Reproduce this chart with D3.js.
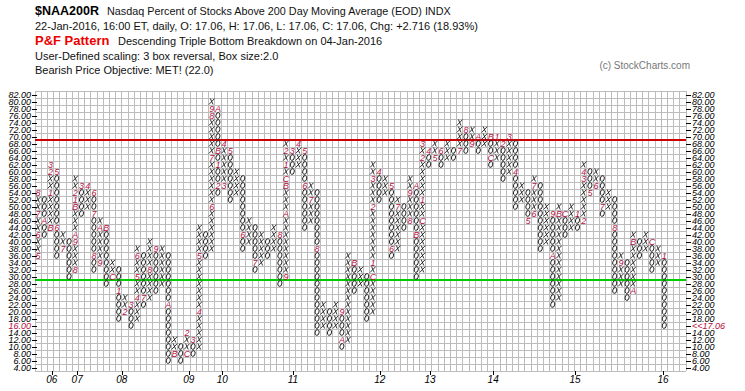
<!DOCTYPE html>
<html><head><meta charset="utf-8">
<script src="https://cdn.jsdelivr.net/npm/d3@7"></script>
<style>body{margin:0;background:#fff}svg{display:block}text{font-family:"Liberation Sans",Arial,sans-serif}</style>
</head><body><svg id="c" width="745" height="391"></svg>
<script>
// ---- data ----
const colLow  = [36,42,44,36,38,30,32,48,50,32, 34,28,30,18,20,16,18,22,24,26, 28,6,8,6,8,8,10,36,38,54,
                 56,52,54,38,40,32,34,36,38,28, 30,60,62,44,46,14,16,14,16,10, 12,26,28,18,20,52,54,36,38,44,
                 46,30,32,62,64,62,64,64,66,66, 68,66,68,62,64,58,60,50,52,46, 48,38,40,22,24,42,44,44,46,54,
                 56,48,50,26,28,24,26,36,38,32, 34,16];
const colHigh = [54,52,62,60,42,40,58,56,56,54, 46,44,34,32,24,22,38,36,40,38, 38,36,12,10,14,12,44,42,80,78,
                 68,66,60,58,46,44,42,40,44,42, 68,66,68,66,56,54,22,20,22,20, 36,34,32,30,62,60,58,56,52,50,
                 58,56,68,66,68,66,68,66,74,72, 72,70,72,70,70,68,70,68,56,54, 58,56,50,48,50,48,50,48,62,60,
                 60,58,54,52,36,34,42,40,42,40, 38,36];
const colType = colLow.map((d,i)=> i%2===0 ? 'X' : 'O');
const monthCol = [0,0,0,0,1,2,2,2,2,3,3,4,6,6,6,6,6,6,7,8,9,9,9,10,10,11,12,13,14,15,16,16,16,17,18,19,
  21,22,24,24,25,26,26,28,28,28,28,29,29,29,29,30,30,31,33,35,39,40,40,40,40,40,40,41,42,43,43,44,45,49,49,51,
  54,54,54,54,55,57,57,58,60,60,61,61,62,62,62,62,63,64,65,68,69,70,71,73,73,74,75,76,77,79,80,80,
  83,83,84,85,87,88,88,88,89,90,91,93,94,96,96,99,101];
const monthVal = [36,42,48,54,46,44,54,60,62,60,44,38,32,40,42,50,52,54,56,56,54,48,36,34,44,44,30,26,20,22,24,30,36,24,32,38,
  22,8,8,14,12,20,36,50,64,76,78,78,66,62,56,56,68,66,42,34,42,30,48,56,58,62,66,66,68,66,56,52,38,20,12,34,
  30,34,50,58,60,56,38,50,46,54,56,42,46,52,64,68,66,64,66,66,72,68,70,70,64,70,68,70,60,46,48,56,
  48,36,48,48,48,46,58,60,54,56,50,44,34,26,40,40,36];
const monthLab = ['5','6','7','8','A','B','1','2','3','5','6','7','8','9','A','B','1','2','3','4','6','7','8','9','A','B','C','1','2','3','4','5','6','7','8','9',
  'A','B','C','2','3','4','5','6','7','8','9','A','B','1','2','3','4','5','6','7','8','9','A','B','C','1','2','3','4','5','6','7','8','9','A','B',
  'C','1','2','3','4','5','6','7','8','9','A','B','C','1','2','3','4','5','6','7','8','9','A','B','C','1','2','3','4','5','6','7',
  '9','A','B','C','1','2','3','4','5','6','7','8','9','A','B','C','1'];
const priceTicks = d3.range(4, 83, 2);
const yearLab = ['06','07','08','09','10','11','12','13','14','15','16'];
const yearCol = [2.2, 6.3, 13.5, 24.3, 29.7, 41.1, 55.1, 63.2, 73.4, 86.6, 100.8];
const resistance = 69, support = 29;
const lastClose = 17.06, nCols = 105;

// ---- layout ----
const svg = d3.select('#c');
const gLeft = 35, gRight = 686, gTop = 91, gBottom = 371;
const x = d3.scaleLinear().domain([0, nCols]).range([gLeft, gRight]);
const y = d3.scaleLinear().domain([3, 83]).range([gBottom, gTop]);
const cw = x(1) - x(0);
const markColor = '#b3103f';
const gridColor = '#bcbcbc';

// header texts
const hdr = svg.append('g').attr('fill','#111');
hdr.append('text').attr('x',35).attr('y',15).attr('font-size',12.5).attr('font-weight','bold').attr('fill','#000').text('$NAA200R');
hdr.append('text').attr('x',107).attr('y',15).attr('font-size',10.8).text('Nasdaq Percent of Stocks Above 200 Day Moving Average (EOD)  INDX');
hdr.append('text').attr('x',35).attr('y',29.5).attr('font-size',11).text('22-Jan-2016, 16:00 ET, daily, O: 17.06, H: 17.06, L: 17.06, C: 17.06, Chg: +2.716 (18.93%)');
hdr.append('text').attr('x',35).attr('y',45).attr('font-size',13).attr('font-weight','bold').attr('fill','#ee0000').text('P&F Pattern');
hdr.append('text').attr('x',118).attr('y',45).attr('font-size',11).text('Descending Triple Bottom Breakdown on 04-Jan-2016');
hdr.append('text').attr('x',35).attr('y',59.5).attr('font-size',11).text('User-Defined scaling: 3 box reversal, Box size:2.0');
hdr.append('text').attr('x',35).attr('y',74).attr('font-size',11).text('Bearish Price Objective: MET! (22.0)');
hdr.append('text').attr('x',690).attr('y',69).attr('font-size',10).attr('fill','#777').attr('text-anchor','end').text('(c) StockCharts.com');

// grid
const g = svg.append('g');
g.selectAll('line.v').data(d3.range(nCols+1)).join('line')
  .attr('x1',d=>x(d)).attr('x2',d=>x(d)).attr('y1',y(83)).attr('y2',y(3))
  .attr('stroke',gridColor).attr('stroke-width',1).attr('shape-rendering','crispEdges');
g.selectAll('line.h').data(d3.range(3,84,2)).join('line')
  .attr('x1',gLeft).attr('x2',gRight).attr('y1',d=>y(d)).attr('y2',d=>y(d))
  .attr('stroke',gridColor).attr('stroke-width',1).attr('shape-rendering','crispEdges');

// resistance / support lines
g.append('line').attr('x1',gLeft).attr('x2',gRight).attr('y1',y(resistance)).attr('y2',y(resistance)).attr('stroke','#cc0000').attr('stroke-width',2);
g.append('line').attr('x1',gLeft).attr('x2',gRight).attr('y1',y(support)).attr('y2',y(support)).attr('stroke','#00cc00').attr('stroke-width',2);

// axes
const yl = d3.axisLeft(y).tickValues(priceTicks).tickFormat(d3.format('.2f')).tickSize(5).tickPadding(1);
const ax = svg.append('g').attr('transform',`translate(${gLeft+2},0)`).call(yl);
ax.select('.domain').remove();
ax.selectAll('text').attr('font-size',9).attr('font-style','italic').attr('fill',d=>d===16?markColor:'#000');
const yr = d3.axisRight(y).tickValues(priceTicks).tickFormat(d=>d===16?'<<'+lastClose.toFixed(2):d3.format('.2f')(d)).tickSize(5).tickPadding(1);
const ax2 = svg.append('g').attr('transform',`translate(${gRight},0)`).call(yr);
ax2.select('.domain').remove();
ax2.selectAll('text').attr('font-size',9).attr('font-style','italic').attr('fill',d=>d===16?markColor:'#000');
svg.selectAll('.tick line').attr('stroke','#000').attr('shape-rendering','crispEdges');

// x axis: year ticks and labels
const xa = svg.append('g');
xa.selectAll('line').data(yearCol).join('line')
  .attr('x1',d=>Math.round(x(d+0.5))+0.5).attr('x2',d=>Math.round(x(d+0.5))+0.5).attr('y1',gBottom).attr('y2',gBottom+4)
  .attr('stroke','#000');
xa.selectAll('text').data(yearLab).join('text')
  .attr('x',(d,i)=>x(yearCol[i]+0.5)).attr('y',383).attr('font-size',10).attr('font-style','italic')
  .attr('text-anchor','middle').text(d=>d);

// boxes
const marks = new Map(monthCol.map((c,i)=>[c+'_'+monthVal[i], monthLab[i]]));
const cells = [];
colType.forEach((t,c)=>{ for(let v=colLow[c]; v<=colHigh[c]; v+=2){ const k=c+'_'+v; cells.push({c,v,t,m:marks.get(k)}); } });
const boxes = svg.append('g');
const hw = 2.1, hh = 3.0, sl = 0.75;
// X symbols (italic slant)
boxes.selectAll('path.x').data(cells.filter(d=>!d.m && d.t==='X')).join('path')
  .attr('d',d=>{ const cx=x(d.c)+cw/2, cy=y(d.v);
    return `M${cx-hw+sl},${cy-hh}L${cx+hw-sl},${cy+hh}M${cx+hw+sl},${cy-hh}L${cx-hw-sl},${cy+hh}`; })
  .attr('stroke','#111').attr('stroke-width',0.85).attr('fill','none');
// O symbols (italic oval)
boxes.selectAll('ellipse').data(cells.filter(d=>!d.m && d.t==='O')).join('ellipse')
  .attr('cx',d=>x(d.c)+cw/2).attr('cy',d=>y(d.v)).attr('rx',2.0).attr('ry',2.9)
  .attr('transform',d=>`rotate(14 ${x(d.c)+cw/2} ${y(d.v)})`)
  .attr('stroke','#111').attr('stroke-width',0.85).attr('fill','none');
// month markers
boxes.selectAll('text').data(cells.filter(d=>d.m)).join('text')
  .attr('x',d=>x(d.c)+cw/2).attr('y',d=>y(d.v)+3.3).attr('text-anchor','middle')
  .attr('font-size',9).attr('font-style','italic').attr('fill',markColor).text(d=>d.m);
</script></body></html>
